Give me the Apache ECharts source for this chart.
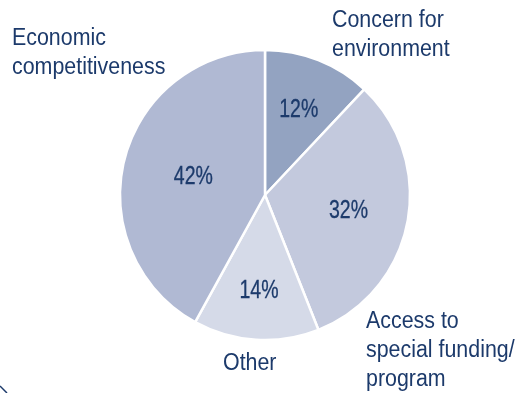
<!DOCTYPE html>
<html>
<head>
<meta charset="utf-8">
<script src="https://cdn.jsdelivr.net/npm/echarts@6/dist/echarts.min.js"></script>
<style>
  html, body { margin: 0; padding: 0; background: #ffffff; }
  #chart { width: 526px; height: 393px; }
</style>
</head>
<body>
<div id="chart"></div>
<script>
// Reasons given, share of responses (%), clockwise from 12 o'clock
const categories = ['Concern for\nenvironment', 'Access to\nspecial funding/\nprogram', 'Other', 'Economic\ncompetitiveness'];
const shares = [12, 32, 14, 42];
const sliceColors = ['#93a3c1', '#c3c9dd', '#d5dae8', '#b0b9d3'];

// Styling / layout
const FONT = '"Liberation Sans", Arial, sans-serif';
const TEXT_COLOR = '#1c3a6b';
const CENTER = [265, 195];
const RADIUS = 145;
// radial placement of the percentage labels, as a fraction of the radius
const valueLabelRadius = [0.632, 0.586, 0.661, 0.51];
// anchor points (left, top) of the category captions
const captionPos = [[332, 6], [366, 307], [223, 349], [12, 24]];

const total = shares.reduce((a, b) => a + b, 0);
const midAngles = [];
let acc = 0;
shares.forEach(v => { midAngles.push((acc + v / 2) / total * 2 * Math.PI); acc += v; });

// condensed-looking caption text
const captions = categories.map((name, i) => ({
  type: 'text',
  x: captionPos[i][0],
  y: captionPos[i][1],
  scaleX: 0.93,
  silent: true,
  style: {
    text: name,
    font: '23px ' + FONT,
    fill: TEXT_COLOR,
    lineHeight: 29,
    align: 'left',
    verticalAlign: 'top'
  }
}));

// percentage labels placed inside each slice
const valueLabels = shares.map((v, i) => {
  const a = midAngles[i];
  const r = RADIUS * valueLabelRadius[i];
  return {
    type: 'text',
    x: CENTER[0] + r * Math.sin(a),
    y: CENTER[1] - r * Math.cos(a),
    scaleX: 0.78,
    silent: true,
    z: 10,
    style: {
      text: v + '%',
      font: '25px ' + FONT,
      fill: TEXT_COLOR,
      stroke: TEXT_COLOR,
      lineWidth: 0.3,
      align: 'center',
      verticalAlign: 'middle'
    }
  };
});

const chart = echarts.init(document.getElementById('chart'), null, { renderer: 'canvas' });

chart.setOption({
  animation: false,
  backgroundColor: '#ffffff',
  series: [{
    type: 'pie',
    center: CENTER,
    radius: RADIUS,
    startAngle: 90,
    clockwise: true,
    data: categories.map((name, i) => ({
      name: name,
      value: shares[i],
      itemStyle: { color: sliceColors[i] }
    })),
    itemStyle: { borderColor: '#ffffff', borderWidth: 2.5 },
    label: { show: false },
    labelLine: { show: false },
    emphasis: { disabled: true }
  }],
  graphic: captions.concat(valueLabels).concat([{
    type: 'line',
    shape: { x1: 0, y1: 386, x2: 7, y2: 393 },
    style: { stroke: TEXT_COLOR, lineWidth: 1.5 }
  }])
});
</script>
</body>
</html>
